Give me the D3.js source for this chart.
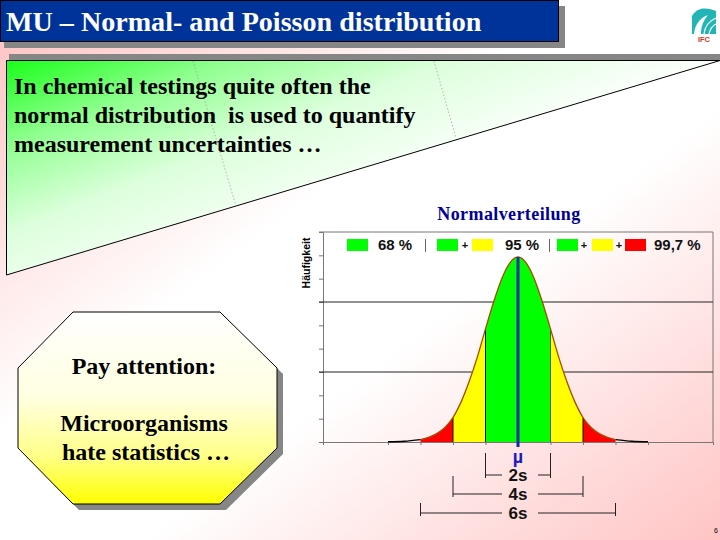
<!DOCTYPE html>
<html>
<head>
<meta charset="utf-8">
<script src="https://cdn.jsdelivr.net/npm/d3@7"></script>
<style>
html, body { margin: 0; padding: 0; background: #fff; }
svg { display: block; }
</style>
</head>
<body>
<script>
// values, x in units of s around the mean
var sigmaPos = [-4, -3.5, -3, -2.75, -2.5, -2.25, -2, -1.75, -1.5, -1.25, -1, -0.75, -0.5, -0.25, 0,
                0.25, 0.5, 0.75, 1, 1.25, 1.5, 1.75, 2, 2.25, 2.5, 2.75, 3, 3.5, 4];
var frequency = [0.01, 0.03, 0.1, 0.2, 0.36, 0.62, 1.05, 1.72, 2.6, 3.65, 4.85, 6.0, 7.0, 7.68, 7.93,
                 7.68, 7.0, 6.0, 4.85, 3.65, 2.6, 1.72, 1.05, 0.62, 0.36, 0.2, 0.1, 0.03, 0.01];
var yTicks = [0, 1, 2, 3, 4, 5, 6, 7, 8, 9];
var gridTicks = [3, 6];
var xTicks = [-6, -4, -3, -2, -1, 1, 2, 3, 4, 6];
var bandNames = ["red", "yellow", "green", "yellow", "red"];
var bandStart = [-3, -2, -1, 1, 2];
var bandEnd = [-2, -1, 1, 2, 3];
var bandColors = { red: "#ff0000", yellow: "#ffff00", green: "#00ff00" };
var spreadLabels = ["2s", "4s", "6s"];
var spreadWidth = [1, 2, 3];

var svg = d3.select("body").append("svg").attr("width", 720).attr("height", 540);
var defs = svg.append("defs");

function gradient(id, x1, y1, x2, y2, stops) {
    var g = defs.append("linearGradient").attr("id", id)
        .attr("x1", x1).attr("y1", y1).attr("x2", x2).attr("y2", y2);
    stops.forEach(function(s) {
        g.append("stop").attr("offset", s[0]).attr("stop-color", s[1]);
    });
}
gradient("bg", 0, 0, 1, 1, [[0, "#ffc0c0"], [0.4, "#ffffff"], [0.6, "#ffffff"], [1, "#ffc4c4"]]);
gradient("panel", 0, 0, 0.65, 0.5, [[0, "#19ff19"], [0.3, "#90ff90"], [0.6, "#dcffdc"], [1, "#ffffff"]]);
gradient("octa", 0, 0, 0, 1, [[0, "#ffffff"], [0.45, "#ffffe0"], [0.75, "#ffff88"], [1, "#ffff00"]]);

svg.append("rect").attr("width", 720).attr("height", 540).attr("fill", "url(#bg)");

// title bar
svg.append("rect").attr("x", 4).attr("y", 6).attr("width", 561).attr("height", 42).attr("fill", "#868686");
svg.append("rect").attr("x", 0.5).attr("y", 0.5).attr("width", 558).attr("height", 41)
    .attr("fill", "#003399").attr("stroke", "#000");
svg.append("text").attr("x", 6).attr("y", 31)
    .attr("font-family", "Liberation Serif").attr("font-weight", "bold").attr("font-size", 28.1)
    .attr("fill", "#fff").text("MU \u2013 Normal- and Poisson distribution");

// logo
var logo = svg.append("g");
logo.append("path").attr("d", "M692 6H716V34H692Z").attr("fill", "#22b5b5");
logo.append("path").attr("d", "M692 16C698 6 708 8 716 11L716 6H692ZM694 34C695 24 700 18 708 15C703 21 701 27 701 34Z").attr("fill", "#fff");
logo.append("path").attr("d", "M704 34C705 26 709 21 716 18M709 34C710 29 712 26 716 24").attr("fill", "none").attr("stroke", "#fff").attr("stroke-width", 1.2);
logo.append("text").attr("x", 704).attr("y", 42).attr("text-anchor", "middle")
    .attr("font-family", "Liberation Sans").attr("font-weight", "bold").attr("font-size", 7.5)
    .attr("fill", "#d8382c").text("IFC");

// green panel
svg.append("rect").attr("x", 9).attr("y", 54).attr("width", 711).attr("height", 6).attr("fill", "#868686");
svg.append("path").attr("d", "M6.5 60.5H720L6.5 275Z").attr("fill", "url(#panel)").attr("stroke", "#000");
svg.append("path").attr("d", "M193 61L236 206M434 61L456 138")
    .attr("fill", "none").attr("stroke", "#888").attr("stroke-width", 0.6).attr("stroke-dasharray", "1.5 2");
var panelText = svg.append("g").attr("font-family", "Liberation Serif").attr("font-weight", "bold")
    .attr("font-size", 24).attr("fill", "#000");
["In chemical testings quite often the", "normal distribution  is used to quantify", "measurement uncertainties \u2026"]
    .forEach(function(t, i) {
        panelText.append("text").attr("x", 14).attr("y", 94 + i * 29).attr("xml:space", "preserve").text(t);
    });

// octagon
var octaPts = "73,312 220,312 277,368 277,448 220,504 73,504 18,448 18,368";
svg.append("polygon").attr("points", octaPts).attr("transform", "translate(6,6)").attr("fill", "#868686");
svg.append("polygon").attr("points", octaPts).attr("fill", "url(#octa)").attr("stroke", "#000");
var octaText = svg.append("g").attr("font-family", "Liberation Serif").attr("font-weight", "bold")
    .attr("font-size", 24).attr("text-anchor", "middle").attr("fill", "#000");
octaText.append("text").attr("x", 144).attr("y", 374).text("Pay attention:");
octaText.append("text").attr("x", 144).attr("y", 431).text("Microorganisms");
octaText.append("text").attr("x", 146).attr("y", 460).text("hate statistics \u2026");

// chart
var x = d3.scaleLinear().domain([-6, 6]).range([323, 713]);
var y = d3.scaleLinear().domain([0, 9]).range([442, 232]);

svg.append("text").attr("x", 509).attr("y", 220).attr("text-anchor", "middle")
    .attr("font-family", "Liberation Serif").attr("font-weight", "bold").attr("font-size", 18)
    .attr("letter-spacing", 0.4).attr("fill", "#000099").text("Normalverteilung");
svg.append("text").attr("transform", "translate(309.5,263) rotate(-90)").attr("text-anchor", "middle")
    .attr("font-family", "Liberation Sans").attr("font-weight", "bold").attr("font-size", 10.5)
    .attr("fill", "#000").text("H\u00e4ufigkeit");

var yAxis = svg.append("g").attr("transform", "translate(323,0)")
    .call(d3.axisLeft(y).tickValues(yTicks).tickFormat("").tickSize(4));
var xAxis = svg.append("g").attr("transform", "translate(0,442)")
    .call(d3.axisBottom(x).tickValues(xTicks).tickFormat("").tickSize(3));
svg.selectAll(".domain, .tick line").attr("stroke", "#777");

svg.append("line").attr("x1", 319).attr("x2", x(6)).attr("y1", y(9)).attr("y2", y(9)).attr("stroke", "#777");
svg.append("line").attr("x1", x(6)).attr("x2", x(6)).attr("y1", y(9)).attr("y2", y(0)).attr("stroke", "#777");
svg.selectAll(".grid").data(gridTicks).enter().append("line").attr("class", "grid")
    .attr("x1", 319).attr("x2", x(6)).attr("y1", d => y(d)).attr("y2", d => y(d)).attr("stroke", "#222");

var curve = sigmaPos.map((s, i) => ({ s: s, f: frequency[i] }));
var area = d3.area().x(d => x(d.s)).y0(y(0)).y1(d => y(d.f)).curve(d3.curveMonotoneX);
var line = d3.line().x(d => x(d.s)).y(d => y(d.f)).curve(d3.curveMonotoneX);

bandNames.forEach(function(name, i) {
    var pts = curve.filter(d => d.s >= bandStart[i] && d.s <= bandEnd[i]);
    svg.append("path").attr("d", area(pts)).attr("fill", bandColors[name]);
});
bandStart.concat([3]).forEach(function(s) {
    var p = curve.find(d => d.s === s);
    if (Math.abs(s) === 3) return;
    svg.append("line").attr("x1", x(s)).attr("x2", x(s)).attr("y1", y(p.f)).attr("y2", y(0))
        .attr("stroke", s === 1 ? "#555" : "#111").attr("stroke-width", 1);
});
svg.append("path").attr("d", line(curve.filter(d => Math.abs(d.s) <= 3)))
    .attr("fill", "none").attr("stroke", "#a84a00").attr("stroke-width", 1.3);
[curve.filter(d => d.s <= -3), curve.filter(d => d.s >= 3)].forEach(function(tail) {
    svg.append("path").attr("d", line(tail)).attr("fill", "none").attr("stroke", "#000").attr("stroke-width", 1.4);
});
svg.append("line").attr("x1", x(0)).attr("x2", x(0)).attr("y1", y(7.93)).attr("y2", 447)
    .attr("stroke", "#0a2ea8").attr("stroke-width", 3);

// legend
var legendY = 239;
var swatches = [[347, "green"], [437, "green"], [472, "yellow"], [557, "green"], [592, "yellow"], [625, "red"]];
swatches.forEach(function(d) {
    svg.append("rect").attr("x", d[0]).attr("y", legendY).attr("width", 21).attr("height", 12).attr("fill", bandColors[d[1]]);
});
var legendText = svg.append("g").attr("font-family", "Liberation Sans").attr("font-weight", "bold").attr("fill", "#111");
[[378, "68 %"], [505, "95 %"], [654, "99,7 %"]].forEach(function(d) {
    legendText.append("text").attr("x", d[0]).attr("y", 250).attr("font-size", 15).text(d[1]);
});
[[465, "+"], [584, "+"], [619, "+"]].forEach(function(d) {
    legendText.append("text").attr("x", d[0]).attr("y", 249).attr("font-size", 11).attr("text-anchor", "middle").text(d[1]);
});
[425.5, 549.5].forEach(function(px) {
    svg.append("line").attr("x1", px).attr("x2", px).attr("y1", 239).attr("y2", 252).attr("stroke", "#666");
});

// spread brackets
svg.append("text").attr("x", x(0)).attr("y", 463).attr("text-anchor", "middle")
    .attr("font-family", "Liberation Sans").attr("font-weight", "bold").attr("font-size", 18)
    .attr("fill", "#1a1ac8").text("\u00b5");
spreadLabels.forEach(function(label, i) {
    var w = spreadWidth[i];
    var rowY = 475 + i * 19;
    var top = [453, 476, 503][i];
    var g = svg.append("g").attr("stroke", "#222").attr("fill", "none");
    g.append("path").attr("d", "M" + x(-w) + " " + top + "V" + (rowY + 3) + "M" + x(w) + " " + top + "V" + (rowY + 3));
    g.append("path").attr("d", "M" + x(-w) + " " + rowY + "H502M538 " + rowY + "H" + x(w));
    svg.append("text").attr("x", x(0)).attr("y", rowY + 6).attr("text-anchor", "middle")
        .attr("font-family", "Liberation Sans").attr("font-weight", "bold").attr("font-size", 17)
        .attr("fill", "#111").text(label);
});

svg.append("text").attr("x", 716).attr("y", 533).attr("text-anchor", "middle")
    .attr("font-family", "Liberation Sans").attr("font-size", 7).attr("fill", "#000").text("6");
</script>
</body>
</html>
